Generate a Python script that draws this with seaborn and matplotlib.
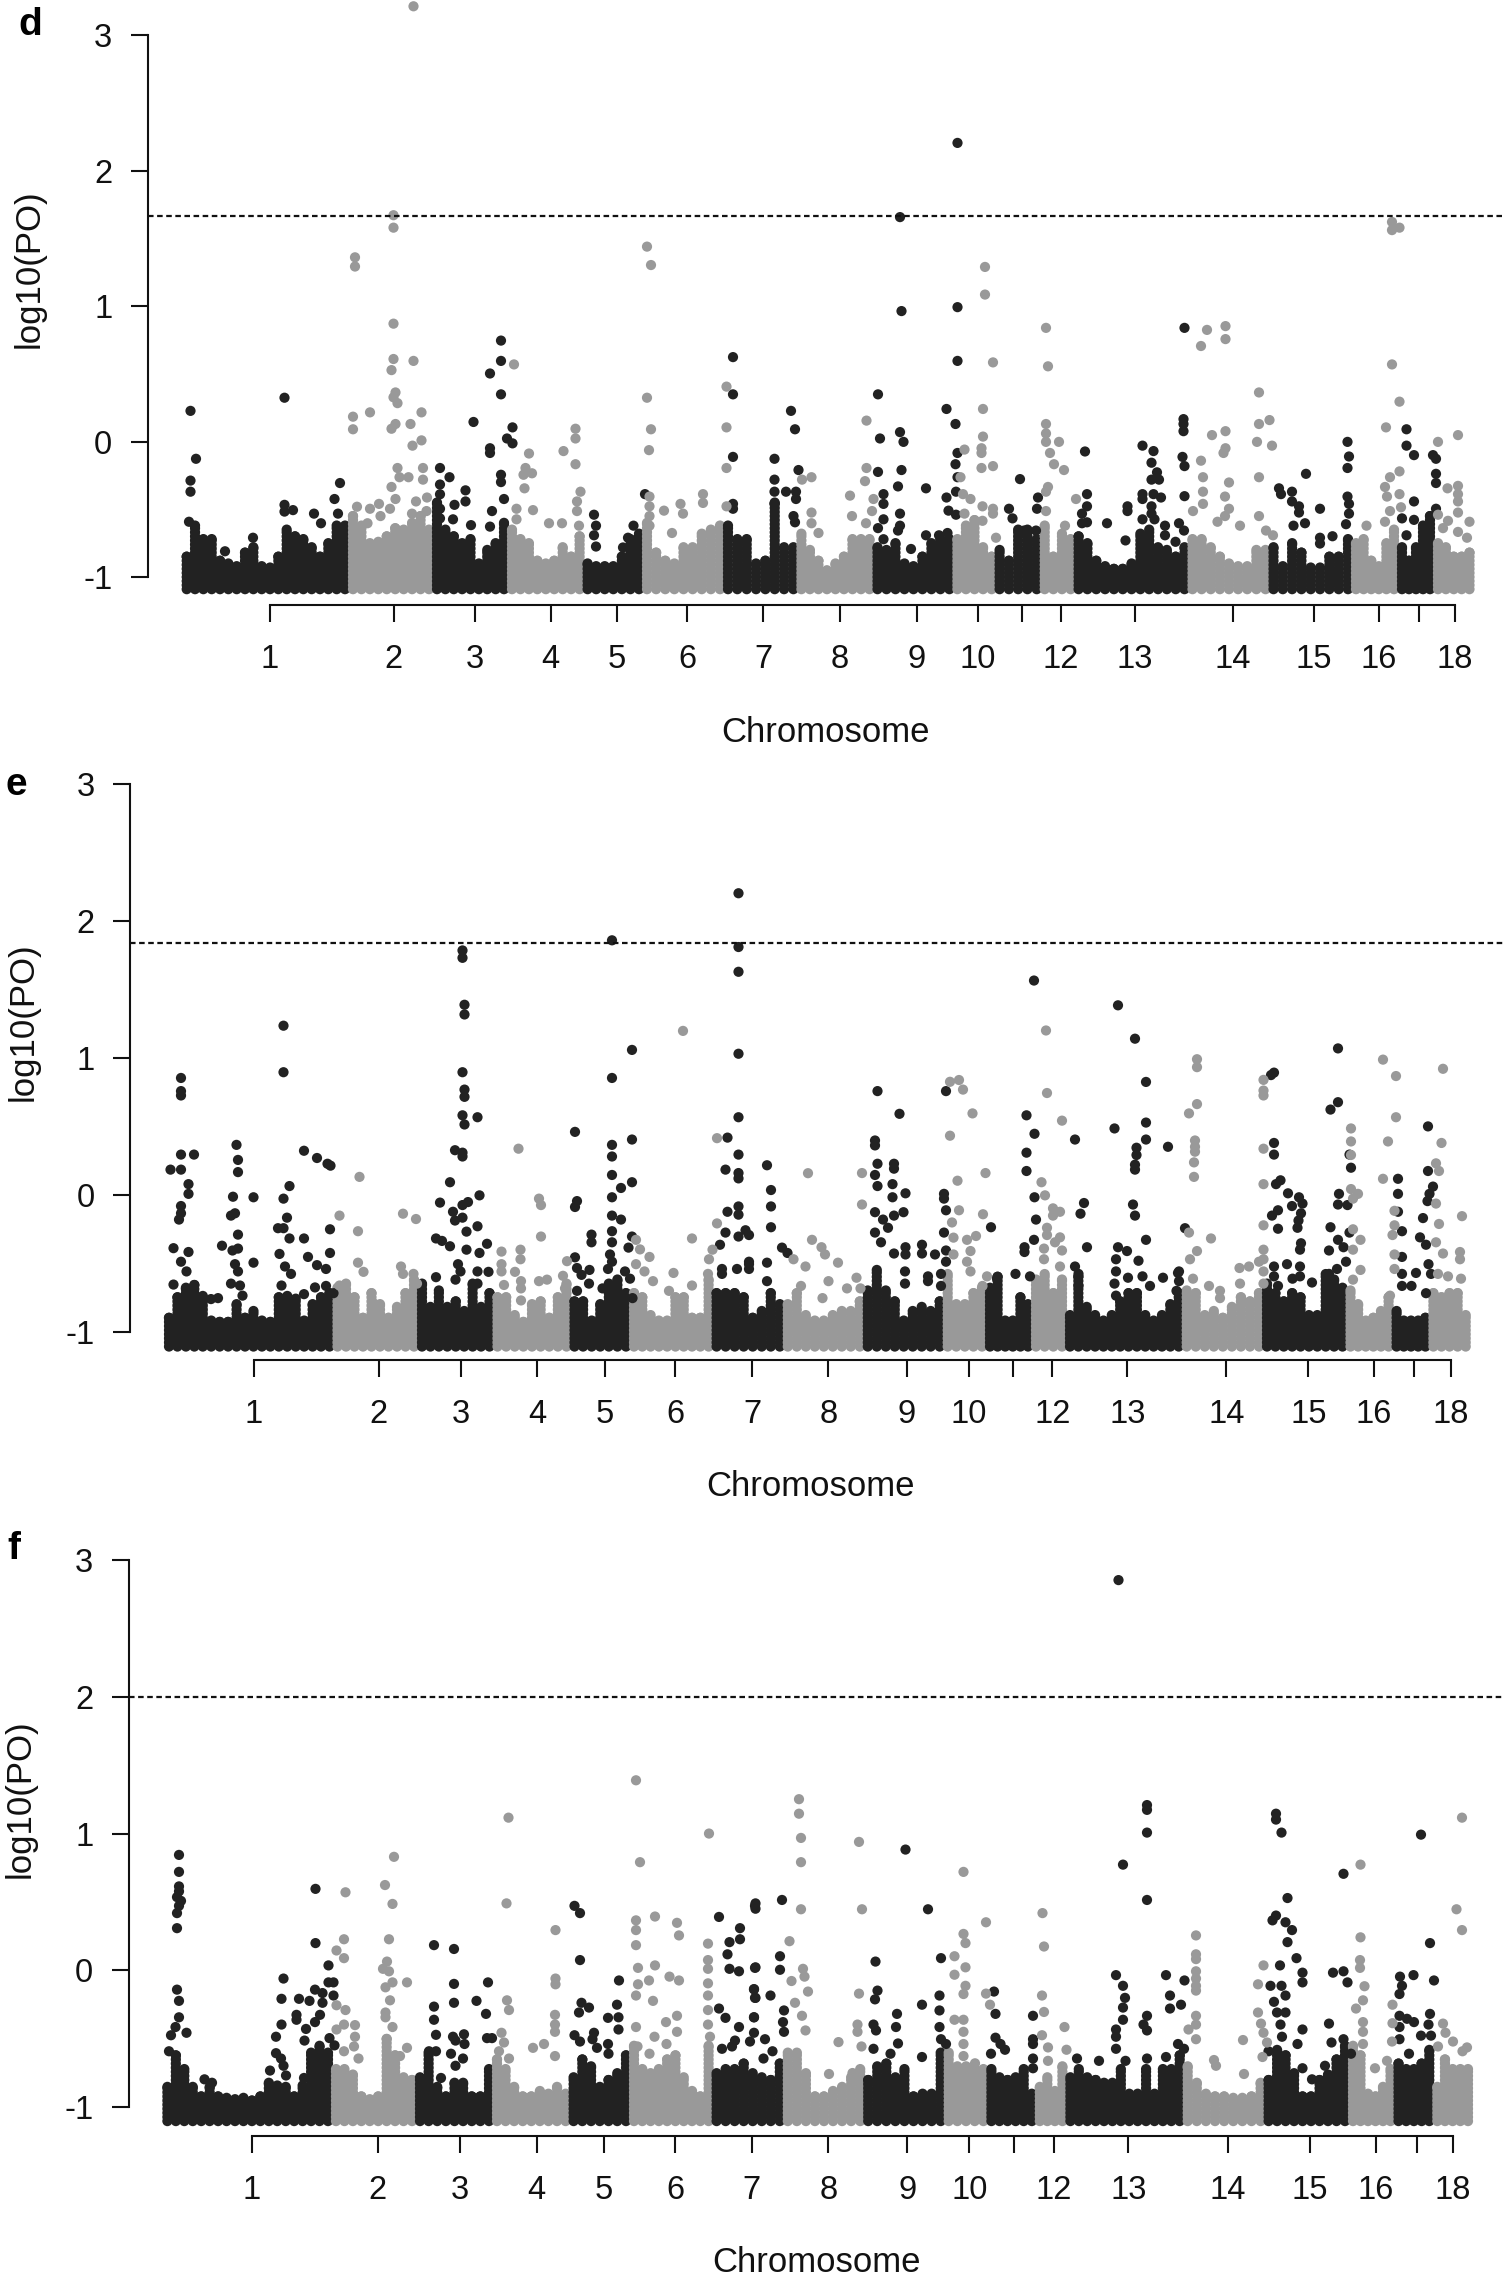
import numpy as np
import pandas as pd
import matplotlib
matplotlib.use("Agg")
import matplotlib.pyplot as plt
import seaborn as sns

sns.set_style("white")
plt.rcParams['font.family'] = ['Liberation Sans', 'DejaVu Sans']

DARK = "#222222"
GRAY = "#999999"
chrom_labels = ['1','2','3','4','5','6','7','8','9','10','','12','13','14','15','16','','18']

# ------------------------------- panel d -------------------------------
d_threshold = 1.665
d_ticks = [270,393.6,475,550.7,617,687.4,763.4,839.5,916.6,977.7,1022,1061,1134.7,1233,1314,1378.5,1419,1454.6]
d_edges = [182.7,349,433,508,583.6,643,724,797.4,873.5,953.4,995.6,1040.7,1074.6,1188.5,1269.5,1352,1398,1434,1473.5]
d_tops = [
 [-.85,-.62,-.72,-.72,-.88,-.9,-.92,-.82,-.78,-.92,-.93,-.85,-.65,-.7,-.72,-.78,-.85,-.75,-.62,-.62],
 [-.55,-.62,-.75,-.74,-.7,-.64,-.65,-.6,-.55,-.65],
 [-.45,-.65,-.7,-.75,-.72,-.9,-.8,-.75,-.6],
 [-.65,-.72,-.75,-.88,-.9,-.88,-.78,-.85,-.7],
 [-.9,-.92,-.92,-.92,-.85,-.72,-.68],
 [-.6,-.82,-.88,-.9,-.78,-.78,-.68,-.65,-.62],
 [-.62,-.72,-.72,-.9,-.88,-.45,-.78,-.78],
 [-.68,-.8,-.88,-.95,-.9,-.85,-.72,-.72,-.72],
 [-.78,-.8,-.75,-.9,-.92,-.85,-.75,-.72,-.72],
 [-.72,-.62,-.58,-.78,-.85],
 [-.8,-.88,-.65,-.65,-.72],
 [-.62,-.85,-.68,-.72],
 [-.7,-.75,-.88,-.92,-.94,-.94,-.9,-.68,-.65,-.78,-.8,-.85,-.78],
 [-.72,-.72,-.78,-.85,-.9,-.92,-.92,-.8,-.8],
 [-.78,-.92,-.75,-.82,-.93,-.93,-.85,-.85,-.72],
 [-.75,-.72,-.88,-.92,-.75,-.65],
 [-.78,-.88,-.78,-.62,-.55],
 [-.75,-.78,-.85,-.85,-.82],
]
d_dark = [(190.5,.227),(196,-.127),(190.5,-.288),(190.5,-.37),(284.5,.324),(340,-.306),(334.5,-.424),(284.5,-.467),(293,-.506),(284.5,-.517),(314,-.532),(338,-.532),(321,-.603),(189,-.592),(225,-.81),(253,-.71),
 (501,.746),(501,.596),(490,.503),(501,.349),(473.5,.145),(512.5,.105),(507,.023),(512.5,-.013),(490,-.049),(490,-.084),(440,-.195),(449.5,-.263),(501,-.245),(501,-.299),(440,-.317),(465.5,-.36),(465.5,-.442),(440,-.389),(504,-.424),(454.5,-.467),(440,-.496),(492,-.513),(453,-.574),(471,-.617),(490,-.628),(440,-.567),
 (594,-.54),(596,-.621),(594,-.692),(596,-.775),(633.5,-.621),(628,-.71),(623,-.782),(645,-.388),
 (733,.624),(733,.349),(733,-.113),(733,-.46),(733,-.496),(774.5,-.127),(774.5,-.281),(774.5,-.37),(791,.227),(795,.091),(798.5,-.21),(786,-.37),(796,-.37),(796,-.424),(793.5,-.55),(795,-.596),(774.5,-.46),
 (900,1.658),(901.5,.964),(878,.349),(880,.023),(900,.07),(903.5,-.002),(878,-.224),(901.5,-.21),(898,-.331),(883.5,-.388),(883.5,-.46),(926,-.345),(900,-.532),(883.5,-.574),(900,-.621),(878,-.639),(898,-.657),(883.5,-.721),(946.5,-.413),(957.5,2.206),(957.5,.993),(957.5,.596),(946.5,.241),(955.5,.13),(957.5,-.084),(955.5,-.167),(957.5,-.263),(956,-.37),(948.5,-.51),(956,-.54),(911,-.793),(926,-.692),(939,-.692),(947.5,-.675),
 (1020,-.277),(1009,-.496),(1012.5,-.567),(1038,-.413),(1037,-.496),(1024,-.657),(1036,-.657),
 (1085,-.073),(1087,-.388),(1087,-.478),(1082,-.532),(1082,-.603),(1087,-.596),(1107,-.603),(1125.5,-.73),(1127.5,-.478),(1127.5,-.513),(1142.5,-.03),(1153.5,-.07),(1151.5,-.156),(1157,-.227),(1151.5,-.281),(1159,-.281),(1142.5,-.388),(1142.5,-.424),(1153.5,-.388),(1161,-.413),(1151.5,-.478),(1151.5,-.532),(1142.5,-.574),(1154.5,-.574),(1165,-.621),(1165,-.692),(1179,-.603),(1184,-.657),(1175.5,-.74),(1184.5,.84),(1183.5,.166),(1183.5,.13),(1183.5,.077),(1182.5,-.113),(1184.5,-.181),(1184.5,-.403),
 (1279,-.345),(1281,-.388),(1292,-.37),(1292,-.442),(1299,-.478),(1299,-.524),(1306,-.238),(1320,-.496),(1305,-.603),(1293.5,-.621),(1332.5,-.699),(1320,-.71),(1320,-.753),(1347.5,-.002),(1349,-.11),(1347.5,-.195),(1347.5,-.406),(1349,-.46),(1349,-.532),(1346,-.61),
 (1406.5,.091),(1406.5,-.03),(1414,-.1),(1414,-.442),(1402,-.567),(1414,-.578),(1406.5,-.692),(1433,-.1),(1436,-.127),(1436,-.238),(1436,-.306),(1436,-.496)]
d_gray = [(413.5,3.215),(393.5,1.672),(393.5,1.58),(355,1.361),(355,1.293),(393.5,.871),(413.5,.596),(393.5,.61),(391.5,.528),(395.5,.363),(393.5,.327),(397.5,.284),(353,.184),(370,.216),(353,.091),(421.5,.216),(410.5,.13),(395.5,.13),(391.5,.095),(421.5,.009),(412.5,-.03),(397.5,-.195),(423,-.195),(423,-.281),(399.5,-.263),(408.5,-.263),(391.5,-.335),(395.5,-.424),(427,-.413),(416,-.442),(357,-.481),(370,-.496),(379,-.46),(390,-.496),(426.5,-.513),(412,-.532),(367.5,-.603),(380.5,-.55),
 (514,.57),(529,-.088),(525.5,-.195),(532,-.234),(523.5,-.245),(524.5,-.345),(575.5,.095),(575.5,.023),(563.5,-.07),(575.5,-.167),(580.5,-.37),(577,-.442),(577,-.513),(516.5,-.496),(533,-.506),(549,-.603),(562,-.603),(516.5,-.574),(579,-.621),
 (647,1.44),(651,1.304),(647,.324),(651,.091),(649,-.063),(649.5,-.406),(649.5,-.478),(649.5,-.55),(649.5,-.621),(664,-.51),(680.5,-.46),(683,-.532),(703,-.388),(703,-.453),(672,-.675),(726.5,.406),(726.5,.105),(726.5,-.195),(726.5,-.478),
 (811.5,-.263),(802,-.281),(811.5,-.524),(811.5,-.603),(818.5,-.675),(866.5,.155),(866.5,-.195),(865,-.292),(850,-.399),(873.5,-.424),(852,-.55),(872,-.513),(866,-.603),
 (985,1.29),(985,1.086),(993,.585),(983,.241),(983,.037),(981.5,-.049),(981.5,-.084),(981.5,-.195),(993,-.181),(964.5,-.059),(960.5,-.263),(963,-.388),(970.5,-.424),(982.5,-.478),(993,-.496),(993,-.532),(964.5,-.532),(996,-.71),(982.5,-.585),
 (1046,.84),(1048,.556),(1046,.13),(1046,.06),(1046,-.002),(1059,-.002),(1050,-.084),(1054,-.167),(1064,-.21),(1048,-.335),(1046,-.37),(1046,-.513),(1076,-.424),(1065,-.621),
 (1207,.825),(1201,.706),(1225.5,.853),(1225.5,.757),(1212,.048),(1225.5,.077),(1225.5,-.049),(1223.5,-.084),(1201,-.141),(1203,-.263),(1203,-.37),(1203,-.46),(1193,-.513),(1229,-.302),(1225,-.406),(1229,-.496),(1225,-.55),(1217.5,-.592),(1240,-.621),(1259,.363),(1259,.13),(1269.5,.159),(1257,-.002),(1272,-.03),(1259,-.263),(1259,-.55),(1266,-.657),(1273,-.692),
 (1392,1.622),(1392,1.562),(1399.5,1.58),(1392,.57),(1399.5,.295),(1386,.105),(1399.5,-.22),(1390,-.263),(1385,-.335),(1387,-.406),(1390,-.513),(1399.5,-.388),(1401,-.485),(1366.5,-.621),(1385,-.592),
 (1438,-.002),(1458,.048),(1458,-.327),(1447.5,-.345),(1458,-.388),(1458,-.442),(1458,-.524),(1438,-.54),(1469.5,-.592),(1458,-.667),(1467,-.71),(1448,-.585),(1443,-.639)]

# ------------------------------- panel e -------------------------------
e_threshold = 1.84
e_ticks = [253.5,378.6,460.5,537,604.5,675,752,828.4,907,968.5,1013,1052.3,1127.4,1226.3,1308.3,1373.7,1414.4,1450.8]
e_edges = [165,333.5,418,493.5,570.5,630,712.6,783.8,863.8,943.7,986,1032,1066,1182.7,1263,1346.5,1392.6,1429.4,1469.7]
e_tops = [
 [-.9,-.75,-.68,-.66,-.74,-.92,-.93,-.93,-.8,-.9,-.85,-.92,-.93,-.75,-.74,-.76,-.92,-.8,-.75,-.72],
 [-.68,-.65,-.75,-.9,-.72,-.8,-.9,-.82,-.72,-.62],
 [-.65,-.82,-.7,-.82,-.78,-.85,-.65,-.82,-.72],
 [-.75,-.75,-.88,-.93,-.8,-.78,-.9,-.75,-.65],
 [-.78,-.78,-.92,-.8,-.65,-.62,-.72],
 [-.72,-.75,-.88,-.92,-.92,-.75,-.75,-.9,-.9,-.62],
 [-.72,-.72,-.72,-.75,-.9,-.85,-.72,-.8],
 [-.8,-.72,-.88,-.92,-.92,-.88,-.85,-.85,-.78],
 [-.7,-.55,-.7,-.78,-.92,-.85,-.82,-.85,-.78],
 [-.58,-.8,-.8,-.72,-.68],
 [-.68,-.6,-.92,-.92,-.75,-.8],
 [-.62,-.58,-.72,-.62],
 [-.88,-.6,-.82,-.88,-.92,-.88,-.78,-.72,-.72,-.88,-.92,-.88,-.8,-.72],
 [-.7,-.72,-.88,-.85,-.9,-.82,-.75,-.78,-.72],
 [-.65,-.72,-.78,-.72,-.75,-.88,-.88,-.58,-.62,-.68],
 [-.7,-.8,-.92,-.9,-.85,-.75],
 [-.85,-.92,-.92,-.92,-.9],
 [-.72,-.75,-.72,-.72,-.88],
]
e_dark = [(181,.853),(181,.757),(181,.725),(181,.293),(194,.293),(170.5,.183),(181,.183),(188.5,.077),(188.5,.006),(181,-.083),(181,-.136),(179,-.182),(173.5,-.391),(188.5,-.419),(181,-.49),(186.5,-.561),(173.5,-.657),
 (236.5,.364),(238,.254),(238,.165),(233,-.015),(235,-.136),(231,-.153),(238,-.292),(222,-.373),(238,-.394),(232.5,-.408),(235,-.508),(238,-.561),(231,-.65),(240,-.664),(242.5,-.738),(211,-.763),(218,-.756),(253.5,-.019),(253.5,-.497),
 (283.5,1.235),(283.5,.895),(289.5,.063),(283.5,-.029),(287,-.168),(278,-.245),(283.5,-.245),(289.5,-.32),(304,-.32),(279.5,-.433),(285,-.525),(291,-.579),(308,-.455),(281.5,-.664),(304,-.727),(304,.321),(317,.268),(327.5,.226),(330.5,.212),(330,-.253),(330,-.426),(317,-.515),(326,-.543),(315,-.678),(326,-.667),(333.5,-.72),
 (462.5,1.785),(462.5,1.731),(464.5,1.388),(464.5,1.317),(462.5,.895),(464.5,.768),(464.5,.715),(462.5,.58),(477.5,.566),(464.5,.513),(455,.325),(462.5,.307),(462.5,.279),(450,.091),(479.5,-.005),(440,-.058),(462.5,-.076),(468,-.054),(453,-.125),(462.5,-.168),(455,-.189),(477.5,-.231),(466.5,-.27),(436,-.32),(442,-.338),(450,-.377),(466.5,-.402),(479.5,-.426),(487,-.359),(458,-.508),(460.5,-.561),(477.5,-.561),(488.5,-.564),(436,-.603),(455.5,-.621),(477.5,-.65),
 (575,.459),(577,-.047),(575,-.09),(591.5,-.292),(591.5,-.348),(575,-.458),(577,-.536),(589.5,-.55),(581.5,-.586),(589,-.65),(577,-.703),(602.5,-.685),(612,1.859),(612,.853),(632,1.058),(612,.364),(612,.279),(632,.403),(612,.144),(632,.091),(621,.049),(612,-.019),(612,-.153),(621,-.182),(612,-.267),(632,-.306),(628.5,-.387),(612,-.348),(610,-.437),(608,-.543),(625,-.561),(612,-.49),(630,-.614),(632.5,-.756),
 (738.5,2.203),(738.5,1.81),(738.5,1.629),(738.5,1.03),(738.5,.566),(727.5,.417),(738.5,.293),(725.5,.183),(738.5,.158),(738.5,.119),(738.5,-.086),(727.5,-.125),(738.5,-.146),(745.5,-.26),(725.5,-.277),(738.5,-.306),(720,-.366),(737,-.543),(749,-.49),(722,-.543),(722,-.579),(749,-.543),(749,-.295),(767,.215),(771,.034),(771,-.086),(771,-.238),(767,-.497),(767,-.632),(749,-.508),(782,-.387),(787.5,-.426),
 (877.5,.757),(875,.396),(875,.36),(899.5,.591),(877.5,.226),(894,.226),(894,.19),(875,.144),(877.5,.063),(892.5,.077),(905.5,.01),(892.5,-.019),(875,-.128),(883,-.182),(894,-.153),(903.5,-.128),(888,-.242),(875,-.277),(881,-.348),(922,-.366),(922,-.43),(905.5,-.384),(894,-.43),(905.5,-.437),(935,-.437),(946,-.408),(905,-.561),(905,-.65),(928,-.597),(928,-.632),(941,-.579),(941,-.667),(944,.006),(944,-.029),(946,-.114),(944,-.277),(946,.757),(946,-.49),
 (991,-.238),(1015.5,-.579),(997,-.614),(1024.5,-.384),(1024.5,-.419),(1034,-.33),(1026.5,.58),(1034.5,.445),(1026.5,.307),(1026.5,.173),(1034.5,-.019),(1036,-.182),(1034,1.565),(1030,-.597),
 (1075,.403),(1084,-.061),(1080.5,-.139),(1087,-.384),(1075,-.525),(1078.5,-.579),(1078.5,-.667),(1118,1.384),(1114.5,.484),(1135,1.14),(1146,.824),(1146,.527),(1146,.403),(1168,.35),(1136.5,.343),(1136.5,.29),(1135,.219),(1135,.183),(1133,-.072),(1135,-.153),(1146,-.33),(1118,-.384),(1127,-.412),(1116,-.472),(1138.5,-.483),(1116,-.561),(1114.5,-.65),(1128,-.607),(1142.5,-.597),(1150,-.667),(1163,-.607),(1178,-.572),(1179,-.632),(1176.5,-.703),(1185,-.245),(1179,-.561),(1116,-.738),
 (1274,.892),(1271,.874),(1274,.378),(1274,.293),(1280.5,.105),(1276,.077),(1288,.01),(1299,-.019),(1302.5,-.065),(1292,-.083),(1278,-.114),(1272,-.153),(1301,-.136),(1298.5,-.189),(1297.5,-.242),(1278,-.249),(1301,-.355),(1300,-.402),(1287,-.508),(1274,-.525),(1274,-.597),(1300,-.525),(1300,-.597),(1292.5,-.614),(1278,-.667),(1312,-.642),(1338,1.069),(1338,.676),(1330.5,.622),(1339,.006),(1338,-.072),(1347.5,-.076),(1330.5,-.238),(1338,-.33),(1329,-.408),(1343.5,-.384),(1346,-.49),(1337,-.543),(1329,-.579),(1329,-.667),(1349.5,-.277),(1349.5,.293),(1351,.197),
 (1398,.116),(1398,.006),(1398,-.125),(1402,-.267),(1402,-.455),(1402,-.579),(1402,-.667),(1423,-.171),(1428,.499),(1428,.173),(1433,.059),(1429.5,.006),(1427.5,-.047),(1420,-.312),(1426,-.366),(1428.5,-.508),(1416,-.572),(1431,-.579),(1411.5,-.667),(1426,-.72)]
e_gray = [(359.5,.13),(339.5,-.153),(358,-.267),(358,-.497),(403,-.139),(416,-.178),(401,-.525),(403,-.579),(413.5,-.579),(417,-.65),(339.5,-.664),(363.5,-.564),(373,-.79),
 (518.5,.336),(539,-.029),(541,-.076),(541,-.306),(501.5,-.416),(520.5,-.402),(520.5,-.472),(501.5,-.508),(501.5,-.561),(515,-.564),(504,-.66),(521,-.632),(521,-.685),(521,-.773),(539,-.632),(547,-.621),(567,-.486),(563,-.593),(565,-.685),
 (683,1.197),(692,-.32),(636,-.33),(640,-.4),(649.5,-.455),(636,-.508),(644.5,-.561),(653,-.632),(673.5,-.572),(692,-.664),(669,-.703),(681,-.773),(717,.413),(717,-.21),(712.5,-.402),(709,-.472),(708,-.579),
 (808,.157),(812,-.33),(821.5,-.384),(825,-.437),(838,-.497),(793.5,-.472),(805.5,-.525),(801,-.667),(828.5,-.632),(822.5,-.756),(847,-.685),(862,.158),(862,-.072),(856.5,-.607),(860.5,-.685),
 (950,.825),(959,.838),(963,.768),(972.5,.594),(950,.431),(957.5,.102),(985.5,.158),(959,-.114),(952,-.203),(983,-.143),(953.5,-.314),(967,-.33),(976,-.302),(953.5,-.437),(970.5,-.412),(967,-.49),(970.5,-.561),(987,-.597),(982.5,-.667),
 (1046,1.2),(1047,.743),(1062,.541),(1041.5,.091),(1045,-.005),(1053,-.1),(1053,-.153),(1060,-.125),(1047,-.242),(1047,-.295),(1060,-.312),(1055,-.348),(1044,-.394),(1062,-.408),(1044,-.472),(1060,-.525),
 (1197,.99),(1197,.932),(1197,.662),(1189,.594),(1195,.396),(1195,.35),(1195,.314),(1194,.236),(1194,.13),(1189,-.277),(1211,-.32),(1197,-.412),(1190,-.472),(1193,-.614),(1209,-.667),(1220,-.703),(1220,-.756),(1239.5,-.536),(1249,-.525),(1259,-.49),(1240,-.65),(1263.5,.839),(1263.5,.761),(1263.5,.725),(1263.5,.336),(1263.5,.077),(1263.5,-.224),(1263.5,-.402),(1263.5,-.472),(1263.5,-.561),(1263.5,-.65),
 (1351,.484),(1351,.389),(1351,.29),(1351,.041),(1358,.006),(1353,-.029),(1353,-.253),(1360.5,-.33),(1353,-.402),(1360.5,-.55),(1353,-.621),(1383,.987),(1396,.867),(1396,.566),(1388,.389),(1383,.116),(1394.5,-.118),(1394.5,-.224),(1392.5,-.295),(1394.5,-.437),(1394.5,-.543),(1390,-.738),
 (1443,.92),(1441.5,.378),(1436,.229),(1439,.173),(1436,-.065),(1439,-.214),(1462,-.157),(1436,-.348),(1443,-.43),(1460,-.419),(1460,-.472),(1438,-.579),(1448,-.597),(1461,-.614)]

# ------------------------------- panel f -------------------------------
f_threshold = 2.0
f_ticks = [252,377.6,460,536.6,604,675.2,751.8,828.4,907.4,969.4,1014,1053.8,1128.4,1227.8,1310,1376,1417,1452.7]
f_edges = [163.4,332,416,493,569.6,630,712.6,783.8,864.2,944.7,987.4,1035.8,1066.4,1183.7,1264.6,1349,1394.5,1433.3,1472]
f_tops = [
 [-.85,-.62,-.72,-.85,-.92,-.85,-.92,-.93,-.94,-.93,-.95,-.92,-.82,-.84,-.85,-.92,-.84,-.6,-.55,-.6],
 [-.72,-.72,-.76,-.92,-.94,-.92,-.5,-.62,-.78,-.8],
 [-.78,-.6,-.85,-.92,-.82,-.82,-.92,-.92,-.72],
 [-.65,-.72,-.85,-.92,-.92,-.88,-.9,-.85,-.9],
 [-.78,-.65,-.7,-.85,-.8,-.75,-.62],
 [-.55,-.72,-.75,-.72,-.65,-.62,-.78,-.88,-.92,-.55],
 [-.75,-.72,-.72,-.68,-.75,-.78,-.8,-.68],
 [-.6,-.6,-.75,-.92,-.92,-.88,-.85,-.78,-.72],
 [-.8,-.7,-.68,-.78,-.72,-.92,-.9,-.9,-.6],
 [-.6,-.7,-.7,-.72,-.72],
 [-.72,-.78,-.8,-.78,-.72,-.9],
 [-.85,-.78,-.88,-.7],
 [-.78,-.72,-.78,-.8,-.82,-.82,-.72,-.9,-.9,-.72,-.9,-.72,-.72,-.62],
 [-.7,-.82,-.9,-.92,-.92,-.93,-.93,-.92,-.82],
 [-.8,-.58,-.62,-.75,-.92,-.92,-.8,-.76,-.65,-.55],
 [-.55,-.62,-.9,-.92,-.85,-.72],
 [-.68,-.72,-.72,-.68,-.58],
 [-.85,-.65,-.72,-.72,-.72],
]
f_dark = [(179,.844),(179,.72),(179,.614),(179,.578),(177,.536),(181,.508),(179,.472),(177,.419),(177,.309),(177,-.14),(179,-.222),(179,-.342),(175.5,-.413),(171,-.473),(186.5,-.455),(169,-.59),(204.5,-.795),(212,-.82),
 (315.5,.596),(315.5,.2),(328.5,.037),(283.5,-.059),(328.5,-.087),(333.5,-.087),(315,-.14),(322.5,-.165),(281.5,-.207),(299,-.207),(309.5,-.222),(333.5,-.183),(322.5,-.236),(296.5,-.324),(296.5,-.36),(320,-.324),(315,-.377),(281.5,-.395),(306,-.427),(276,-.484),(304.5,-.512),(329.5,-.494),(276,-.604),(281,-.643),(270,-.731),(283.5,-.696),(286,-.767),(304,-.785),(334.5,-.547),
 (434,.185),(454,.157),(454,-.098),(488,-.087),(434,-.264),(454,-.236),(476.5,-.222),(486,-.317),(434,-.36),(436,-.47),(453,-.484),(464,-.466),(455.5,-.512),(464.5,-.537),(487,-.494),(492,-.494),(429,-.59),(436,-.59),(451,-.608),(463,-.643),(455.5,-.696),(441,-.785),
 (574.5,.472),(580,.419),(580,.076),(619,-.073),(581.5,-.236),(589,-.271),(579,-.307),(617,-.25),(608,-.346),(618.5,-.342),(618.5,-.431),(594,-.455),(574.5,-.473),(580,-.519),(592.5,-.502),(608,-.537),(597,-.565),(608.5,-.608),
 (755,.472),(719,.391),(740,.309),(729.5,.207),(740,.228),(727.5,.118),(729.5,.012),(739,-.006),(755,.019),(754,-.137),(755,-.2),(719,-.278),(725.5,-.346),(754,-.342),(739,-.413),(754,-.455),(735,-.512),(722,-.572),(732,-.555),
 (755.5,.49),(755.5,.451),(782,.515),(755.5,.023),(780,.104),(780,.005),(754,-.137),(755.5,-.2),(770.5,-.183),(754,-.342),(784,-.292),(783,-.377),(784,-.448),(765,-.502),(750,-.519),(772.5,-.59),(763.5,-.643),
 (905.5,.883),(928,.447),(875.5,.065),(877.5,-.147),(875,-.211),(897,-.317),(896,-.413),(873.5,-.395),(876,-.438),(922,-.25),(898,-.533),(873.5,-.572),(922,-.632),(890.5,-.608),(941,.09),(939.5,-.183),(939.5,-.292),(939.5,-.413),(941,-.502),(946,-.537),
 (994,-.154),(995.5,-.317),(995.5,-.491),(1000.5,-.537),(1005,-.579),(991,-.608),(1033,-.331),(1033,-.502),(1033,-.537),(1033,-.643),(1033,-.714),
 (1099,-.66),(1077,-.643),(1118.5,2.851),(1123,.773),(1147,1.208),(1147,1.173),(1147,1.007),(1147,.515),(1116,-.034),(1123,-.112),(1125,-.2),(1123,-.271),(1123,-.36),(1116,-.431),(1116,-.484),(1116,-.572),(1147,-.331),(1143.5,-.395),(1147,-.438),(1166,-.034),(1184.5,-.073),(1170,-.183),(1181,-.25),(1170,-.278),(1166,-.632),(1178,-.537),(1184,-.572),(1125.5,-.66),(1147,-.643),
 (1276,1.145),(1276,1.102),(1281.5,1.007),(1287.5,.529),(1276,.401),(1272.5,.366),(1285.5,.352),(1292,.295),(1287.5,.207),(1296.5,.09),(1280,.037),(1302.5,-.016),(1302.5,-.087),(1270.5,-.112),(1281.5,-.112),(1285.5,-.183),(1274,-.229),(1277,-.307),(1285.5,-.307),(1280.5,-.395),(1302.5,-.431),(1282,-.484),(1297.5,-.537),(1268.5,-.59),(1302.5,-.714),(1312,-.795),(1325,-.696),(1329,-.388),(1333,-.016),(1343.5,.706),(1343.5,-.006),(1347.5,-.087),(1331.5,-.526),(1343.5,-.502),(1351,-.608),
 (1400,-.045),(1413.5,-.034),(1402,-.112),(1399.5,-.172),(1399.5,-.331),(1407,-.353),(1414,-.377),(1399.5,-.413),(1399.5,-.502),(1421,.992),(1430,.2),(1434,-.073),(1430,-.317),(1428.5,-.395),(1421,-.476),(1431,-.476),(1409,-.608)]
f_gray = [(345.5,.571),(344,.228),(336.5,.146),(344,.09),(336.5,-.254),(345.5,-.289),(336.5,-.431),(344,-.395),(355,-.399),(355,-.484),(344,-.59),(354,-.555),(358.5,-.643),(394,.83),(385,.624),(392.5,.486),(389,.228),(387,.065),(383,.012),(389,-.006),(407,-.087),(392.5,-.087),(385.5,-.123),(390,-.218),(385.5,-.307),(385.5,-.342),(392.5,-.413),(407,-.565),(400,-.625),
 (508.5,1.116),(506.5,.49),(555.5,.295),(555.5,-.059),(555.5,-.101),(507,-.218),(509,-.289),(501.5,-.455),(504,-.526),(555,-.324),(555,-.395),(555,-.448),(544,-.537),(533,-.565),(555,-.625),(499,-.59),(509,-.643),
 (636,1.389),(640,.791),(636,.366),(636,.295),(655,.394),(677,.348),(679,.256),(636,.185),(638,.019),(655,.037),(669.5,-.045),(679,-.073),(649,-.073),(638,-.101),(636,-.183),(653,-.222),(677,-.331),(666,-.377),(636,-.413),(677,-.448),(654.5,-.484),(666.5,-.537),(637.5,-.555),(649.5,-.608),(709,1.0),(708,.196),(708,.076),(708,.012),(708,-.094),(708,-.183),(708,-.289),(708,-.395),(710,-.484),
 (799,1.251),(799,1.145),(801,.968),(801,.791),(801,.447),(789.5,.214),(803,.012),(804.5,-.045),(791.5,-.077),(808,-.154),(795,-.236),(802,-.331),(805.5,-.438),(838.5,-.523),(829,-.756),(859,.939),(862,.447),(859,-.169),(857.5,-.395),(857.5,-.448),(861.5,-.555),(852.5,-.749),
 (963.5,.72),(986,.352),(963.5,.267),(965.5,.2),(954.5,.104),(965.5,.023),(954.5,-.031),(965.5,-.112),(963.5,-.172),(986,-.169),(990,-.25),(954.5,-.36),(963.5,-.36),(963.5,-.448),(963.5,-.537),(963.5,-.625),(975,-.678),
 (1042.5,.419),(1044,.175),(1042,-.183),(1044,-.303),(1042,-.473),(1064.5,-.413),(1048,-.562),(1066.5,-.579),(1048,-.66),
 (1196,.256),(1196,.118),(1196,.083),(1196,-.006),(1196,-.059),(1196,-.112),(1196,-.147),(1196,-.331),(1196,-.395),(1188.5,-.431),(1196,-.502),(1214,-.654),(1216,-.696),(1243,-.508),(1244,-.756),(1258,-.101),(1263.5,.037),(1258,-.307),(1261,-.388),(1263.5,-.455),(1267,-.526),(1262.5,-.632),
 (1360.5,.773),(1360.5,.242),(1360,.076),(1360,.019),(1364.5,-.115),(1363,-.218),(1356,-.278),(1363,-.377),(1363,-.448),(1363,-.537),(1375,-.714),(1387,-.66),(1392.5,-.25),(1392.5,-.385),(1392,-.519),
 (1462,1.116),(1456.5,.447),(1462,.295),(1443,-.388),(1445.5,-.455),(1453,-.519),(1438,-.555),(1467,-.562),(1462.5,-.59),]

W, H = 1505, 2278
DPI = 100
fig = plt.figure(figsize=(W/DPI, H/DPI), dpi=DPI, facecolor='white')


def band_frame(edges, tops, floor):
    rows = []
    for i, column_tops in enumerate(tops):
        tone = 'dark' if i % 2 == 0 else 'gray'
        xs = np.linspace(edges[i] + 4, edges[i+1] - 4, len(column_tops))
        for x, top in zip(xs, column_tops):
            for y in np.arange(floor, top + 0.001, 0.03):
                rows.append((x, y, tone))
            rows.append((x, top, tone))
    return rows


def panel(band_top, band_bot, p3, pm1, axis_x, axis_y, tick_y, thr, ticks, edges, tops,
          dark, gray, floor, letter, ylab_xy, xlab_xy, thr_end=1503):
    ax = fig.add_axes([0, 1 - band_bot/H, 1, (band_bot - band_top)/H])
    ax.patch.set_alpha(0)
    unit = (pm1 - p3) / 4
    to_val = lambda py: -1 + (pm1 - py) / unit
    ax.set_xlim(0, W)
    ax.set_ylim(to_val(band_bot), to_val(band_top))

    rows = band_frame(edges, tops, floor)
    rows += [(x, y, 'dark') for x, y in dark]
    rows += [(x, y, 'gray') for x, y in gray]
    df = pd.DataFrame(rows, columns=['pos', 'logpo', 'tone'])
    sns.scatterplot(data=df, x='pos', y='logpo', hue='tone',
                    palette={'dark': DARK, 'gray': GRAY}, s=54, linewidth=0,
                    legend=False, ax=ax, clip_on=False, zorder=2)
    ax.hlines(thr, axis_x, thr_end, colors='#111111', linewidth=1.6,
              linestyles=(0, (2.5, 1.6)), zorder=3)

    for s in ('top', 'right'):
        ax.spines[s].set_visible(False)
    ax.spines['left'].set_position(('data', axis_x))
    ax.spines['left'].set_bounds(-1, 3)
    ax.spines['bottom'].set_position(('data', to_val(axis_y)))
    ax.spines['bottom'].set_bounds(ticks[0], ticks[-1])
    for s in ('left', 'bottom'):
        ax.spines[s].set_linewidth(1.5)
        ax.spines[s].set_color('#111111')
        ax.spines[s].set_visible(True)
    ax.set_yticks([-1, 0, 1, 2, 3])
    ax.set_yticklabels(['-1', '0', '1', '2', '3'])
    ax.set_xticks(ticks)
    ax.set_xticklabels(chrom_labels)
    ln = (tick_y - axis_y) * 72 / DPI
    ax.tick_params(axis='y', left=True, length=12.2, width=1.5, pad=13.5, labelsize=23.5, color='#111111', labelcolor='#111111')
    ax.tick_params(axis='x', bottom=True, length=ln, width=1.5, pad=16, labelsize=23.5, color='#111111', labelcolor='#111111')
    ax.grid(False)
    ax.set_xlabel('')
    ax.set_ylabel('')
    fig.text(ylab_xy[0]/W, 1 - ylab_xy[1]/H, 'log10(PO)', rotation=90, ha='center', va='center', fontsize=25, color='#111111')
    fig.text(xlab_xy[0]/W, 1 - xlab_xy[1]/H, 'Chromosome', ha='center', va='center', fontsize=25, color='#111111')
    fig.text(letter[1]/W, 1 - letter[2]/H, letter[0], ha='left', va='baseline', fontsize=28, fontweight='bold', color='black')


panel(0, 760, 35.4, 577, 148, 605, 622, d_threshold, d_ticks, d_edges, d_tops, d_dark, d_gray, -1.09,
      ('d', 18, 35), (29, 269), (825, 732))
panel(760, 1518, 784.2, 1331.5, 130.4, 1359.6, 1377, e_threshold, e_ticks, e_edges, e_tops, e_dark, e_gray, -1.11,
      ('e', 6, 795), (23, 1022), (811, 1487))
panel(1518, 2278, 1559.7, 2107.4, 129, 2136, 2153, f_threshold, f_ticks, f_edges, f_tops, f_dark, f_gray, -1.10,
      ('f', 7, 1559), (20, 1799), (816, 2262))

fig.savefig('out.png', dpi=DPI, facecolor='white')
